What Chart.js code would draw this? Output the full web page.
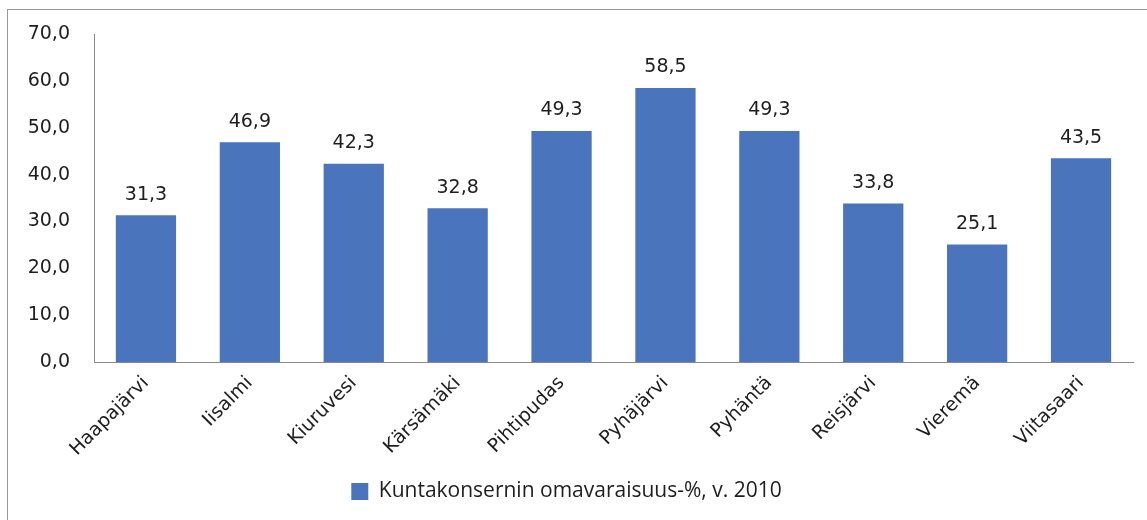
<!DOCTYPE html>
<html>
<head>
<meta charset="utf-8">
<script src="https://cdn.jsdelivr.net/npm/chart.js@4/dist/chart.umd.min.js"></script>
<style>
  body { margin: 0; background: #fff; }
  #frame { position: absolute; left: 7px; top: 9px; width: 1160px; height: 530px; border: 1px solid #9a9a9a; }
  #wrap { position: absolute; left: 0; top: 0; width: 1147px; height: 520px; }
</style>
</head>
<body>
<div id="frame"></div>
<div id="wrap"><canvas id="barChart"></canvas></div>
<script>
const municipalities = ['Haapajärvi', 'Iisalmi', 'Kiuruvesi', 'Kärsämäki', 'Pihtipudas', 'Pyhäjärvi', 'Pyhäntä', 'Reisjärvi', 'Vieremä', 'Viitasaari'];
const equityRatio = [31.3, 46.9, 42.3, 32.8, 49.3, 58.5, 49.3, 33.8, 25.1, 43.5];
const yTicks = [0, 10, 20, 30, 40, 50, 60, 70];
const seriesLabel = 'Kuntakonsernin omavaraisuus-%, v. 2010';

const fmt = v => v.toFixed(1).replace('.', ',');
const textColor = '#1e1e1e';
const numFont = { family: 'DejaVu Sans', size: 19 };

// value labels above the bars
const valueLabels = {
  id: 'valueLabels',
  afterDatasetsDraw(chart) {
    const ctx = chart.ctx;
    const meta = chart.getDatasetMeta(0);
    ctx.save();
    ctx.font = numFont.size + 'px ' + numFont.family;
    ctx.fillStyle = textColor;
    ctx.textAlign = 'center';
    ctx.textBaseline = 'bottom';
    meta.data.forEach((bar, i) => {
      ctx.fillText(fmt(equityRatio[i]), bar.x, bar.y - 11);
    });
    ctx.restore();
  }
};

const ctx = document.getElementById('barChart').getContext('2d');
new Chart(ctx, {
  type: 'bar',
  data: {
    labels: municipalities,
    datasets: [{
      label: seriesLabel,
      data: equityRatio,
      backgroundColor: '#4a74bb',
      categoryPercentage: 1,
      barPercentage: 0.58
    }]
  },
  options: {
    responsive: true,
    maintainAspectRatio: false,
    animation: false,
    layout: { padding: { left: 0, right: 14, top: 34, bottom: 8 } },
    plugins: {
      tooltip: { enabled: false },
      legend: {
        position: 'bottom',
        labels: {
          boxWidth: 17, boxHeight: 17, padding: 8,
          color: textColor,
          font: { family: 'Open Sans', size: 21 }
        }
      }
    },
    scales: {
      x: {
        grid: { display: false },
        border: { display: true, color: '#8a8a8a', width: 1 },
        ticks: {
          minRotation: 45, maxRotation: 45,
          color: textColor,
          font: numFont,
          padding: 2
        },
        afterFit(scale) { scale.height = 111; }
      },
      y: {
        min: 0, max: 70,
        afterBuildTicks(scale) { scale.ticks = yTicks.map(v => ({ value: v })); },
        grid: { display: false },
        border: { display: true, color: '#8a8a8a', width: 1 },
        ticks: {
          color: textColor,
          font: numFont,
          padding: 16,
          callback: v => fmt(v)
        },
        afterFit(scale) { scale.width = 94; }
      }
    }
  },
  plugins: [valueLabels]
});
</script>
</body>
</html>
